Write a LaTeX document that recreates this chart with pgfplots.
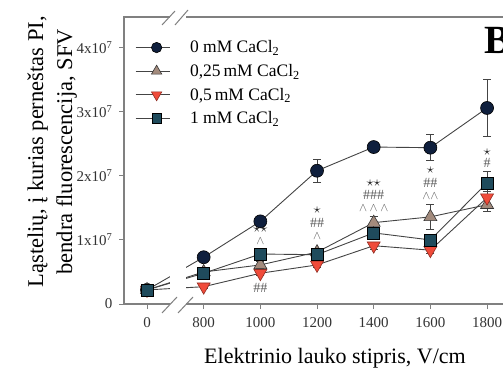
\documentclass[border=0pt]{standalone}
\usepackage{fontspec}
\setmainfont{Liberation Serif}
\usepackage{pgfplots}
\pgfplotsset{compat=1.18}
\definecolor{cnavy}{HTML}{0F1F3D}
\definecolor{cbrown}{HTML}{A38B7D}
\definecolor{cred}{HTML}{F04B3A}
\definecolor{cteal}{HTML}{1F4B5C}
\definecolor{axgray}{HTML}{808080}
\definecolor{lngray}{HTML}{444444}
\definecolor{anngray}{HTML}{5A5A5A}
\newcommand\tlf[1]{\hbox{\fontsize{15}{15}\selectfont\color{black!80}#1}}
\begin{document}
\begin{tikzpicture}
\path[use as bounding box] (0,0) rectangle (503pt,370pt);
\begin{axis}[
  at={(124pt,66pt)}, anchor=south west, scale only axis,
  width=422pt, height=287pt,
  xmin=-0.406, xmax=7.04, ymin=0, ymax=4.48,
  xtick={0,1,2,3,4,5,6},
  xticklabels={\tlf{0},\tlf{800},\tlf{1000},\tlf{1200},\tlf{1400},\tlf{1600},\tlf{1800}},
  ytick={0,1,2,3,4},
  yticklabels={\tlf{0},\tlf{1x10\textsuperscript{7}},\tlf{2x10\textsuperscript{7}},\tlf{3x10\textsuperscript{7}},\tlf{4x10\textsuperscript{7}}},
  xtick pos=left, ytick pos=left, tick align=outside,
  major tick length=5pt,
  every tick/.style={axgray, line width=1pt},
  axis line style={axgray, line width=1.3pt},
  xticklabel shift=5pt, yticklabel shift=3pt,
  xlabel={Elektrinio lauko stipris, V/cm},
  xlabel style={font=\fontsize{22}{22}\selectfont, at={(axis description cs:0.5,-0.188)}, anchor=center},
  ylabel={Ląstelių, į kurias perneštas PI,\\bendra fluorescencija, SFV},
  ylabel style={font=\fontsize{22.5}{29}\selectfont, align=center, at={(axis description cs:-0.17,0.53)}, anchor=center},
  clip=false,
  legend style={draw=none, fill=none, inner sep=0pt, at={(axis description cs:0.026,0.925)}, anchor=north west,
    font=\fontsize{17.5}{17.5}\selectfont, row sep=6pt, /tikz/every odd column/.append style={column sep=10pt}},
  legend cell align=left,
  legend image code/.code={\draw[mark repeat=2,mark phase=2, every mark/.append style={scale=0.8}] plot coordinates {(0pt,0pt) (21pt,0pt) (42pt,0pt)};},
  every axis plot/.append style={line width=0.9pt},
  error bars/error bar style={lngray, line width=0.8pt},
  error bars/error mark options={rotate=90, mark size=4pt, lngray, line width=0.8pt},
]
\addplot[lngray, mark=*, mark size=6.5pt, mark options={fill=cnavy, draw=black, line width=0.6pt},
  error bars/.cd, y dir=both, y explicit]
  coordinates {(0,0.22) +- (0,0.02) (1,0.73) +- (0,0.04) (2,1.29) +- (0,0.08) (3,2.08) +- (0,0.18) (4,2.45) +- (0,0.06) (5,2.44) +- (0,0.2) (6,3.06) +- (0,0.45)};
\addlegendentry{0 mM CaCl\textsubscript{2}}
\addplot[lngray, mark=triangle*, mark size=7.5pt, mark options={fill=cbrown, draw=black!80, line width=0.6pt},
  error bars/.cd, y dir=both, y explicit]
  coordinates {(0,0.22) +- (0,0.02) (1,0.5) +- (0,0.03) (2,0.61) +- (0,0.05) (3,0.81) +- (0,0.05) (4,1.27) +- (0,0.1) (5,1.36) +- (0,0.2) (6,1.55) +- (0,0.1)};
\addlegendentry{0,25\,mM CaCl\textsubscript{2}}
\addplot[lngray, mark=triangle*, mark size=7.5pt, mark options={rotate=180, fill=cred, draw=cred!60!black, line width=0.6pt},
  error bars/.cd, y dir=both, y explicit]
  coordinates {(0,0.22) +- (0,0.02) (1,0.27) +- (0,0.03) (2,0.48) +- (0,0.04) (3,0.61) +- (0,0.04) (4,0.91) +- (0,0.05) (5,0.84) +- (0,0.05) (6,1.66) +- (0,0.1)};
\addlegendentry{0,5\,mM CaCl\textsubscript{2}}
\addplot[lngray, mark=square*, mark size=6pt, mark options={fill=cteal, draw=black, line width=0.6pt},
  error bars/.cd, y dir=both, y explicit]
  coordinates {(0,0.22) +- (0,0.02) (1,0.48) +- (0,0.04) (2,0.78) +- (0,0.05) (3,0.77) +- (0,0.06) (4,1.11) +- (0,0.06) (5,1.0) +- (0,0.06) (6,1.89) +- (0,0.18)};
\addlegendentry{1 mM CaCl\textsubscript{2}}
% significance annotations
\node[font=\fontsize{15}{15}\selectfont, text=black!85, inner sep=0pt] at (axis cs:2,1.17) {$\star\star$};
\node[font=\fontsize{13}{13}\selectfont, text=anngray, inner sep=0pt] at (axis cs:2,0.98) {$\wedge$};
\node[font=\fontsize{14}{14}\selectfont, text=anngray, inner sep=0pt] at (axis cs:2,0.25) {\#\#};
\node[font=\fontsize{15}{15}\selectfont, text=black!85, inner sep=0pt] at (axis cs:3,1.47) {$\star$};
\node[font=\fontsize{14}{14}\selectfont, text=anngray, inner sep=0pt] at (axis cs:3,1.27) {\#\#};
\node[font=\fontsize{13}{13}\selectfont, text=anngray, inner sep=0pt] at (axis cs:3,1.06) {$\wedge$};
\node[font=\fontsize{15}{15}\selectfont, text=black!85, inner sep=0pt] at (axis cs:4,1.89) {$\star\star$};
\node[font=\fontsize{14}{14}\selectfont, text=anngray, inner sep=0pt] at (axis cs:4,1.70) {\#\#\#};
\node[font=\fontsize{13}{13}\selectfont, text=anngray, inner sep=0pt] at (axis cs:4,1.49) {$\wedge\wedge\wedge$};
\node[font=\fontsize{15}{15}\selectfont, text=black!85, inner sep=0pt] at (axis cs:5,2.09) {$\star$};
\node[font=\fontsize{14}{14}\selectfont, text=anngray, inner sep=0pt] at (axis cs:5,1.89) {\#\#};
\node[font=\fontsize{13}{13}\selectfont, text=anngray, inner sep=0pt] at (axis cs:5,1.68) {$\wedge\wedge$};
\node[font=\fontsize{15}{15}\selectfont, text=black!85, inner sep=0pt] at (axis cs:6,2.37) {$\star$};
\node[font=\fontsize{14}{14}\selectfont, text=anngray, inner sep=0pt] at (axis cs:6,2.20) {\#};
\end{axis}
% axis break
\fill[white] (170pt,52pt) rectangle (185.5pt,362pt);
\draw[axgray, line width=1pt] (162pt,57pt) -- (177pt,73pt) (178pt,57pt) -- (193pt,73pt);
\draw[axgray, line width=1pt] (162pt,345pt) -- (175pt,359pt) (175pt,345pt) -- (188pt,360pt);
\node[anchor=west, font=\bfseries\fontsize{40}{40}\selectfont, inner sep=0pt] at (484pt,330pt) {B};
\end{tikzpicture}
\end{document}
